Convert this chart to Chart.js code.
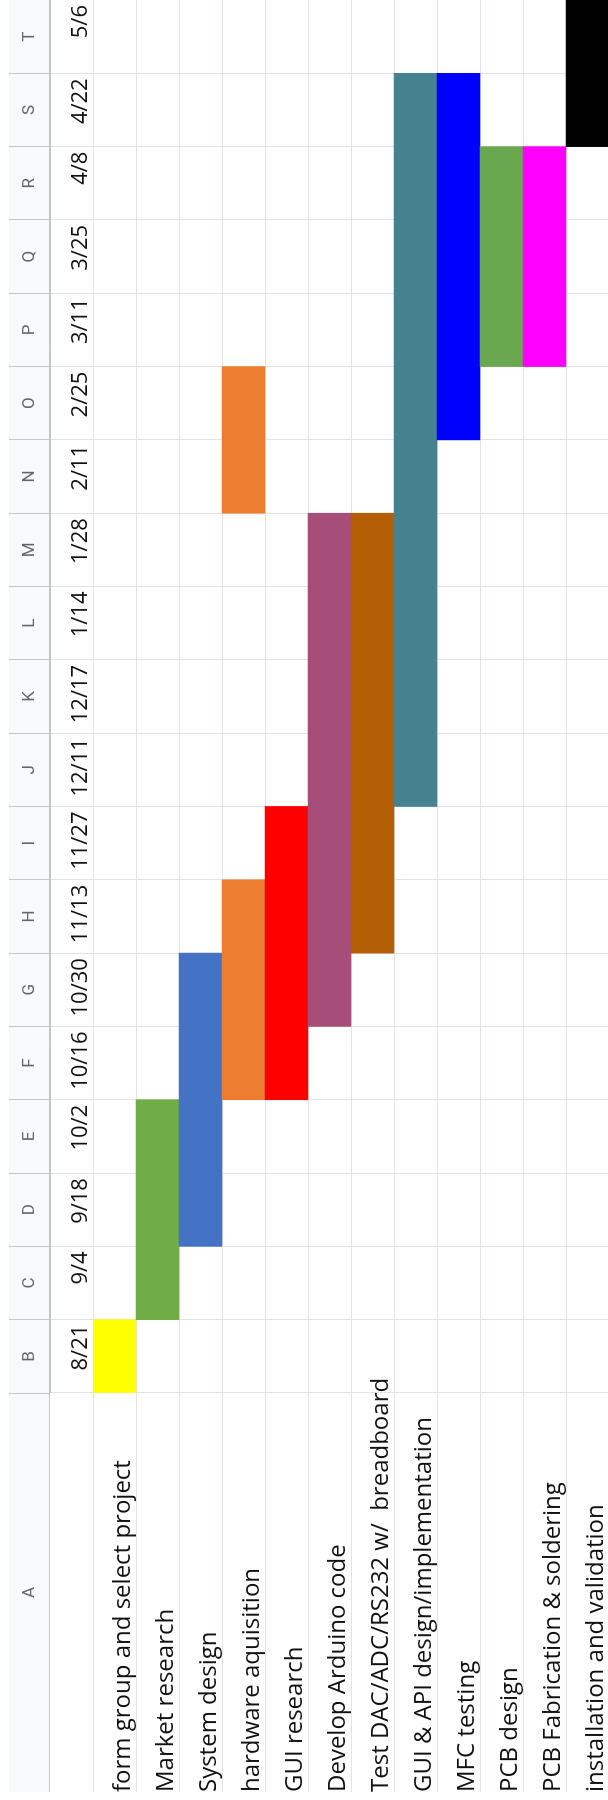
<!DOCTYPE html>
<html>
<head>
<meta charset="utf-8">
<title>Project schedule</title>
<script src="https://cdn.jsdelivr.net/npm/chart.js@4.4.1/dist/chart.umd.min.js"></script>
<style>
  html, body { margin: 0; padding: 0; background: #fff; overflow: hidden; }
  body { width: 608px; height: 1800px; position: relative; }
  /* the sheet is laid out landscape and turned a quarter turn counter-clockwise;
     the last row runs one pixel past the visible edge */
  #sheet { position: absolute; left: 0; top: 0; width: 1800px; height: 608px; overflow: hidden;
           background: #fff; transform-origin: 0 0; transform: translateY(1800px) rotate(-90deg); }
  #gantt { display: block; }
</style>
</head>
<body>
<div id="sheet"><canvas id="gantt" width="1800" height="609"></canvas></div>
<script>
// Tasks listed in column A
const tasks = [
  'form group and select project',
  'Market research',
  'System design',
  'hardware aquisition',
  'GUI research',
  'Develop Arduino code',
  'Test DAC/ADC/RS232 w/  breadboard',
  'GUI & API design/implementation',
  'MFC testing',
  'PCB design',
  'PCB Fabrication & soldering',
  'installation and validation'
];

// Dates heading columns B..T
const weekStarts = ['8/21', '9/4', '9/18', '10/2', '10/16', '10/30', '11/13', '11/27', '12/11',
                    '12/17', '1/14', '1/28', '2/11', '2/25', '3/11', '3/25', '4/8', '4/22', '5/6'];

// Sheet column letters (A holds the task names)
const columnLetters = ['A', 'B', 'C', 'D', 'E', 'F', 'G', 'H', 'I', 'J', 'K',
                       'L', 'M', 'N', 'O', 'P', 'Q', 'R', 'S', 'T'];

// Filled spans: task index, first and last date column (1 = B ... 19 = T), fill colour
const spanTask  = [0, 1, 2, 3, 3, 4, 5, 6, 7, 8, 9, 10, 11];
const spanFirst = [1, 2, 3, 5, 13, 5, 6, 7, 9, 14, 15, 15, 18];
const spanLast  = [1, 4, 6, 7, 14, 8, 12, 12, 18, 18, 17, 17, 19];
const spanColor = ['#ffff00', '#70ad47', '#4472c4', '#ed7d31', '#ed7d31', '#ff0000', '#a64d79',
                   '#b45f06', '#45818e', '#0000ff', '#6aa84f', '#ff00ff', '#000000'];

const GRID = '#e2e3e3';
const HEADER_LINE = '#c4c7c5';
const HEADER_BG = '#f8f9fa';
const HEADER_TEXT = '#666666';
const CELL_TEXT = '#111111';
const COL_A_WIDTH = 399;

// Header strip above column A (outside the chart area) plus its background
const headerCorner = {
  id: 'headerCorner',
  beforeDraw(chart) {
    const ctx = chart.ctx;
    const ys = chart.scales.y;
    const hs = chart.scales.x2;
    ctx.save();
    ctx.fillStyle = HEADER_BG;
    ctx.fillRect(ys.left, hs.top, hs.right - ys.left, hs.bottom - hs.top);
    ctx.strokeStyle = HEADER_LINE;
    ctx.lineWidth = 1;
    ctx.beginPath();
    ctx.moveTo(ys.left, Math.round(hs.bottom) - 0.5);
    ctx.lineTo(hs.right, Math.round(hs.bottom) - 0.5);
    ctx.stroke();
    ctx.fillStyle = HEADER_TEXT;
    ctx.font = '17px Roboto';
    ctx.textAlign = 'center';
    ctx.textBaseline = 'middle';
    ctx.fillText(columnLetters[0], (ys.left + ys.right) / 2, (hs.top + hs.bottom) / 2);
    ctx.restore();
  }
};

new Chart(document.getElementById('gantt'), {
  type: 'bar',
  data: {
    labels: tasks,
    datasets: [{
      data: spanTask.map((t, i) => ({ y: tasks[t], x: [spanFirst[i] - 1, spanLast[i]] })),
      backgroundColor: spanColor,
      borderWidth: 0,
      barPercentage: 1,
      categoryPercentage: 1,
      grouped: false,
      xAxisID: 'x',
      yAxisID: 'y'
    }]
  },
  options: {
    indexAxis: 'y',
    responsive: false,
    animation: false,
    devicePixelRatio: 1,
    layout: { autoPadding: false, padding: { left: 8, top: 9, right: 0, bottom: 0 } },
    plugins: { legend: { display: false }, tooltip: { enabled: false } },
    scales: {
      y: {
        type: 'category',
        position: 'left',
        offset: true,
        grid: { color: GRID, tickColor: GRID, offset: true, tickLength: COL_A_WIDTH },
        border: { color: GRID },
        // mirrored labels are not clipped to the axis box, so long names may run into column B
        ticks: {
          autoSkip: false, mirror: true, crossAlign: 'near', padding: -COL_A_WIDTH, labelOffset: 9,
          color: CELL_TEXT, font: { family: 'Open Sans', size: 24 }
        },
        afterFit: s => { s.width = COL_A_WIDTH; }
      },
      x: {
        type: 'linear',
        position: 'top',
        min: 0,
        max: weekStarts.length,
        weight: 0,
        grid: { color: GRID, tickColor: GRID, tickLength: 43 },
        border: { color: GRID },
        afterBuildTicks: s => {
          s.ticks = Array.from({ length: weekStarts.length + 1 }, (_, i) => ({ value: i }));
        },
        ticks: {
          autoSkip: false, align: 'end', labelOffset: -5, padding: -44,
          minRotation: 0, maxRotation: 0,
          color: CELL_TEXT, font: { family: 'Open Sans', size: 22 },
          callback: v => weekStarts[v - 1] ?? ''
        },
        afterFit: s => { s.height = 43; }
      },
      x2: {
        type: 'category',
        position: 'top',
        labels: columnLetters.slice(1),
        offset: true,
        weight: 1,
        grid: { drawOnChartArea: false, offset: true, color: HEADER_LINE, tickColor: HEADER_LINE, tickLength: 41 },
        border: { color: HEADER_LINE },
        ticks: {
          autoSkip: false, padding: -31, minRotation: 0, maxRotation: 0,
          color: HEADER_TEXT, font: { family: 'Roboto', size: 17 }
        },
        afterFit: s => { s.height = 41; }
      }
    }
  },
  plugins: [headerCorner]
});
</script>
</body>
</html>
